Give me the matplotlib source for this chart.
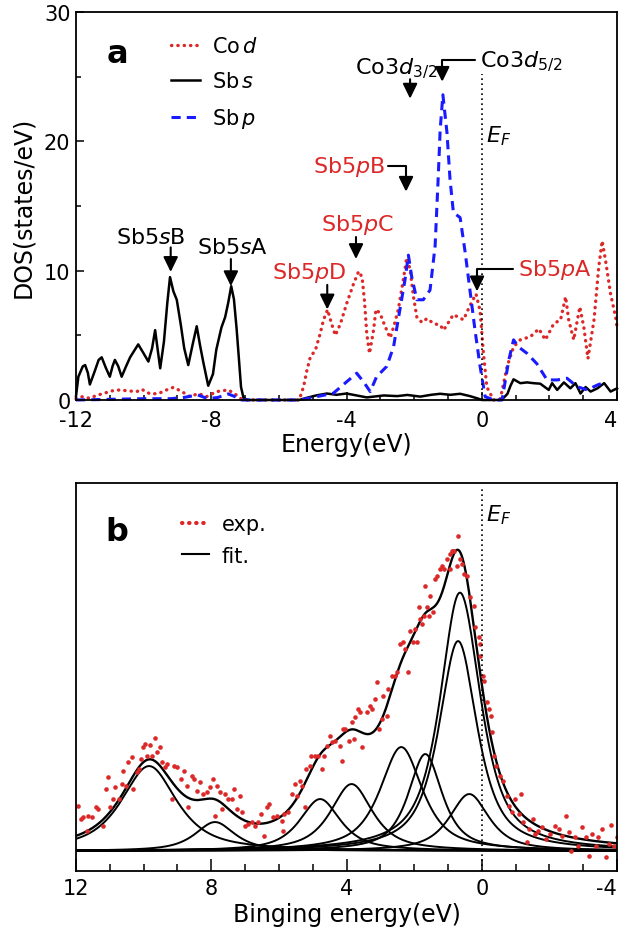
import numpy as np
import matplotlib
matplotlib.use("Agg")
import matplotlib.pyplot as plt
from matplotlib.lines import Line2D
from matplotlib.ticker import MultipleLocator

plt.rcParams["font.family"] = ["DejaVu Sans"]
plt.rcParams["font.size"] = 15
plt.rcParams["axes.unicode_minus"] = False
plt.rcParams["mathtext.fontset"] = "dejavusans"

RED = "#dc2828"
BLUE = "#1a1aff"

# ---- panel a: DOS curves (energy in eV, DOS in states/eV) ----
sbs_E = [-12.0, -11.93, -11.8, -11.73, -11.65, -11.59, -11.45, -11.33, -11.24, -11.12,
         -11.0, -10.92, -10.85, -10.75, -10.65, -10.52, -10.4, -10.16, -10.0, -9.86,
         -9.75, -9.66, -9.58, -9.51, -9.4, -9.3, -9.22, -9.12, -9.02, -8.9,
         -8.8, -8.68, -8.55, -8.43, -8.33, -8.23, -8.09, -7.95, -7.85, -7.7,
         -7.59, -7.5, -7.41, -7.33, -7.25, -7.18, -7.12, -7.05, -6.95, -5.4,
         -5.2, -4.9, -4.58, -4.3, -4.0, -3.7, -3.4, -3.2, -2.9, -2.5,
         -2.2, -1.82, -1.5, -1.23, -0.93, -0.64, -0.35, -0.1, 0.0, 0.53,
         0.66, 0.76, 0.85, 0.94, 1.14, 1.34, 1.53, 1.73, 1.98, 2.08,
         2.23, 2.43, 2.62, 2.77, 2.92, 3.07, 3.22, 3.42, 3.62, 3.81, 4.0]
sbs_D = [0.3, 1.8, 2.6, 2.7, 2.1, 1.2, 2.2, 3.1, 3.3, 2.5,
         1.8, 2.6, 3.1, 2.6, 1.8, 2.6, 3.3, 4.3, 3.6, 2.97,
         4.0, 5.4, 3.8, 2.45, 4.5, 7.5, 9.5, 8.4, 7.75, 5.8,
         4.0, 2.7, 4.3, 5.7, 4.2, 2.85, 1.1, 2.0, 3.9, 5.6,
         6.4, 7.5, 8.8, 7.8, 5.5, 3.1, 1.0, 0.2, 0.0, 0.0,
         0.15, 0.35, 0.5, 0.4, 0.5, 0.35, 0.2, 0.26, 0.35, 0.3,
         0.39, 0.26, 0.4, 0.48, 0.4, 0.48, 0.3, 0.1, 0.0, 0.0,
         0.2, 0.48, 1.1, 1.6, 1.3, 1.36, 1.3, 1.26, 0.78, 1.3,
         0.78, 1.36, 0.9, 1.3, 0.5, 1.0, 0.65, 0.9, 1.3, 0.65, 0.9]

cod_E = [-12.0, -11.85, -11.59, -11.4, -11.19, -10.95, -10.7, -10.45, -10.2, -10.06,
         -9.81, -9.56, -9.32, -9.12, -8.87, -8.63, -8.38, -8.14, -7.84, -7.5,
         -7.3, -7.1, -6.9, -5.4, -5.27, -5.17, -5.07, -4.92, -4.78, -4.68,
         -4.56, -4.43, -4.33, -4.18, -3.99, -3.79, -3.64, -3.54, -3.47, -3.4,
         -3.32, -3.2, -3.13, -3.01, -2.86, -2.71, -2.6, -2.47, -2.32, -2.22,
         -2.12, -2.02, -1.92, -1.77, -1.62, -1.42, -1.23, -1.13, -0.84, -0.54,
         -0.35, -0.17, -0.05, 0.05, 0.15, 0.35, 0.55, 0.75, 0.94, 1.14,
         1.44, 1.69, 1.88, 2.13, 2.33, 2.48, 2.57, 2.72, 2.9, 3.02,
         3.14, 3.32, 3.46, 3.56, 3.66, 3.81, 3.96, 4.0]
cod_D = [0.1, 0.26, 0.13, 0.35, 0.5, 0.7, 0.78, 0.7, 0.65, 0.83,
         0.47, 0.5, 0.78, 0.98, 0.65, 0.26, 0.5, 0.26, 0.65, 0.78,
         0.47, 0.05, 0.0, 0.0, 1.03, 2.3, 3.33, 3.85, 5.12, 6.2,
         6.98, 5.8, 5.0, 5.9, 7.5, 9.0, 9.95, 9.5, 7.7, 5.1,
         3.6, 5.4, 7.0, 6.7, 5.7, 4.8, 5.7, 6.98, 9.3, 11.0,
         10.1, 8.0, 6.4, 6.0, 6.3, 5.9, 5.8, 5.4, 6.6, 6.2,
         7.3, 8.2, 6.9, 3.6, 1.0, 0.0, 0.1, 2.6, 4.1, 4.65,
         4.9, 5.5, 4.65, 5.9, 6.2, 7.98, 6.2, 4.65, 7.2, 5.6,
         3.2, 6.2, 10.3, 12.3, 10.8, 8.2, 6.4, 5.6]

sbp_E = [-12.0, -11.0, -10.0, -9.2, -8.8, -8.4, -8.1, -7.8, -7.5, -7.3,
         -7.1, -5.37, -4.88, -4.39, -3.99, -3.7, -3.5, -3.3, -3.11, -2.81,
         -2.61, -2.42, -2.27, -2.17, -2.07, -1.92, -1.73, -1.53, -1.38, -1.29,
         -1.23, -1.15, -1.03, -0.94, -0.84, -0.64, -0.49, -0.35, -0.2, -0.05,
         0.1, 0.35, 0.6, 0.8, 0.94, 1.09, 1.34, 1.63, 1.93, 2.23,
         2.52, 2.82, 3.12, 3.42, 3.56]
sbp_D = [0.0, 0.05, 0.1, 0.1, 0.2, 0.39, 0.1, 0.2, 0.47, 0.26,
         0.0, 0.0, 0.26, 0.52, 1.42, 2.07, 1.42, 0.65, 1.8, 2.6,
         4.1, 7.0, 9.3, 11.2, 9.5, 7.75, 7.75, 8.5, 11.9, 17.1,
         20.9, 23.6, 20.7, 17.1, 14.5, 14.1, 11.4, 8.5, 5.4, 2.6,
         0.26, 0.0, 0.0, 3.1, 4.65, 4.1, 3.6, 2.8, 1.55, 1.55,
         1.68, 1.03, 0.78, 1.16, 1.29]

# ---- panel b: photoemission spectrum (binding energy in eV, arb. units) ----
exp_E = [11.93, 11.86, 11.78, 11.68, 11.64, 11.54, 11.41, 11.34, 11.21, 11.11,
         11.04, 10.99, 10.91, 10.85, 10.72, 10.65, 10.6, 10.52, 10.45, 10.35,
         10.3, 10.2, 10.13, 10.09, 10.01, 9.96, 9.89, 9.81, 9.74, 9.66,
         9.61, 9.53, 9.47, 9.37, 9.3, 9.17, 9.1, 9.0, 8.9, 8.81,
         8.73, 8.68, 8.58, 8.51, 8.43, 8.33, 8.23, 8.13, 8.04, 7.96,
         7.89, 7.82, 7.74, 7.67, 7.59, 7.5, 7.4, 7.33, 7.25, 7.15,
         7.08, 7.01, 6.91, 6.81, 6.72, 6.62, 6.53, 6.43, 6.36, 6.28,
         6.16, 6.06, 5.91, 5.89, 5.86, 5.72, 5.62, 5.52, 5.47, 5.37,
         5.33, 5.22, 5.2, 5.08, 5.05, 4.93, 4.83, 4.73, 4.68, 4.58,
         4.49, 4.44, 4.34, 4.19, 4.14, 4.09, 4.04, 3.94, 3.84, 3.79,
         3.75, 3.65, 3.6, 3.55, 3.4, 3.3, 3.25, 3.15, 3.1, 3.05,
         2.96, 2.91, 2.81, 2.76, 2.66, 2.56, 2.51, 2.41, 2.32, 2.27,
         2.17, 2.12, 2.02, 1.97, 1.92, 1.87, 1.82, 1.77, 1.72, 1.67,
         1.62, 1.57, 1.53, 1.43, 1.38, 1.33, 1.23, 1.18, 1.13, 1.03,
         0.94, 0.93, 0.88, 0.84, 0.83, 0.74, 0.69, 0.64, 0.59, 0.54,
         0.44, 0.34, 0.24, 0.19, 0.09, 0.06, 0.04, -0.04, -0.08, -0.14,
         -0.21, -0.26, -0.3, -0.37, -0.43, -0.53, -0.62, -0.74, -0.82, -0.89,
         -0.99, -1.09, -1.16, -1.23, -1.33, -1.41, -1.51, -1.58, -1.67, -1.78,
         -1.9, -2.02, -2.17, -2.27, -2.37, -2.5, -2.57, -2.64, -2.77, -2.84,
         -2.97, -3.07, -3.17, -3.27, -3.37, -3.44, -3.56, -3.66, -3.76, -3.83,
         -3.91, -4.0]
exp_I = [45, 32, 34, 20, 35, 34, 44, 42, 25, 62,
         74, 44, 52, 64, 52, 67, 80, 65, 89, 94,
         62, 79, 82, 92, 104, 107, 95, 106, 95, 113,
         99, 104, 89, 84, 87, 52, 85, 84, 72, 80,
         65, 44, 75, 72, 60, 69, 57, 59, 64, 72,
         35, 65, 59, 42, 57, 52, 52, 62, 42, 55,
         39, 25, 27, 29, 25, 29, 37, 15, 44, 47,
         34, 35, 30, 20, 37, 39, 57, 67, 55, 70,
         65, 44, 82, 85, 95, 95, 95, 82, 95, 105,
         115, 109, 110, 105, 90, 122, 122, 110, 129, 112,
         134, 142, 139, 104, 139, 145, 142, 152, 169, 122,
         132, 155, 135, 162, 175, 175, 179, 207, 209, 202,
         179, 220, 209, 222, 209, 244, 232, 227, 235, 265,
         244, 235, 255, 239, 272, 275, 282, 285, 282, 292,
         282, 297, 300, 300, 300, 285, 315, 292, 287, 277,
         275, 254, 245, 224, 214, 207, 195, 175, 170, 149,
         142, 135, 119, 95, 85, 75, 70, 55, 45, 39,
         52, 37, 57, 29, 9, 22, 32, 17, 20, 24,
         12, 17, 25, 22, 15, 35, 19, 0, 14, 5,
         24, 14, -5, 17, 5, 14, 22, -6, 7, 26,
         5, 14]

# fitted peaks: centre (eV), height, half width (eV)
fit_center = [9.84, 7.89, 4.78, 3.85, 2.38, 1.67, 0.70, 0.37]
fit_height = [85, 29, 52, 67, 104, 97, 210, 57]
fit_hwhm = [0.98, 0.7, 0.72, 0.74, 0.75, 0.6, 0.68, 0.70]


def pvoigt(x, c, h, g, eta=0.8):
    u = (x - c) / g
    return h * (eta / (1 + u ** 2) + (1 - eta) * np.exp(-np.log(2) * u ** 2))


fig = plt.figure(figsize=(6.22, 9.28), dpi=100)
ax1 = fig.add_axes([0.1222, 0.5679, 0.8698, 0.4181])
ax2 = fig.add_axes([0.1222, 0.0603, 0.8698, 0.418])

for ax in (ax1, ax2):
    for s in ax.spines.values():
        s.set_linewidth(1.3)

# ---------------- panel a ----------------
ax1.plot(cod_E, cod_D, color=RED, lw=2.4, dashes=(0.1, 1.8), dash_capstyle="round",
         clip_on=False, label="Co$\\,d$")
ax1.plot(sbs_E, sbs_D, color="k", lw=1.8, clip_on=False, label="Sb$\\,s$")
ax1.plot(sbp_E, sbp_D, color=BLUE, lw=2.2, dashes=(3, 2), clip_on=False, label="Sb$\\,p$")
ax1.plot([0, 0], [0, 25.2], color="k", lw=1.2, ls=(0, (1, 2)))

ax1.set_xlim(-12, 4)
ax1.set_ylim(0, 30)
ax1.set_xticks([-12, -8, -4, 0, 4])
ax1.set_yticks([0, 10, 20, 30])
ax1.xaxis.set_minor_locator(MultipleLocator(1))
ax1.yaxis.set_minor_locator(MultipleLocator(5))
ax1.tick_params(which="both", direction="in", top=False, right=False, width=1.1)
ax1.tick_params(which="major", length=6)
ax1.tick_params(which="minor", length=3.6)
ax1.tick_params(axis="x", pad=7)
ax1.tick_params(axis="y", pad=4)
ax1.get_xticklabels()[-1].set_ha("right")
ax1.set_xlabel("Energy(eV)", labelpad=2, fontsize=17)
ax1.set_ylabel("DOS(states/eV)", labelpad=6, fontsize=17)

ax1.text(0.076, 0.892, "a", transform=ax1.transAxes, fontsize=23, fontweight="bold",
         ha="center", va="center")
ax1.legend(loc="upper left", bbox_to_anchor=(0.175, 0.937), frameon=False, borderpad=0,
           borderaxespad=0, handlelength=1.4, handletextpad=0.6, labelspacing=0.72,
           fontsize=15)

arr = dict(arrowstyle="-|>,head_length=0.45,head_width=0.22", color="k", lw=1.5,
           shrinkA=0, shrinkB=0, mutation_scale=20)
bent = dict(arr, connectionstyle="angle,angleA=0,angleB=90,rad=0")

ax1.text(-9.78, 12.6, "Sb5$s$B", ha="center", va="center", fontsize=16)
ax1.annotate("", xy=(-9.2, 9.9), xytext=(-9.2, 11.8), arrowprops=arr)
ax1.text(-7.38, 11.8, "Sb5$s$A", ha="center", va="center", fontsize=16)
ax1.annotate("", xy=(-7.42, 8.8), xytext=(-7.42, 10.9), arrowprops=arr)
ax1.text(-5.11, 9.9, "Sb5$p$D", ha="center", va="center", color=RED, fontsize=16)
ax1.annotate("", xy=(-4.57, 7.0), xytext=(-4.57, 8.9), arrowprops=arr)
ax1.text(-3.67, 13.6, "Sb5$p$C", ha="center", va="center", color=RED, fontsize=16)
ax1.annotate("", xy=(-3.72, 10.9), xytext=(-3.72, 12.6), arrowprops=arr)
ax1.text(-3.92, 18.1, "Sb5$p$B", ha="center", va="center", color=RED, fontsize=16)
ax1.annotate("", xy=(-2.24, 16.1), xytext=(-2.77, 18.1), arrowprops=bent)
ax1.text(-2.53, 25.7, "Co3$d_{3/2}$", ha="center", va="center", fontsize=16)
ax1.annotate("", xy=(-2.12, 23.3), xytext=(-2.12, 24.8), arrowprops=arr)
ax1.text(-0.05, 26.2, "Co3$d_{5/2}$", ha="left", va="center", fontsize=16)
ax1.annotate("", xy=(-1.17, 24.6), xytext=(-0.19, 26.3), arrowprops=bent)
ax1.text(0.51, 20.5, "$E_F$", ha="center", va="center", fontsize=16)
ax1.text(2.17, 10.1, "Sb5$p$A", ha="center", va="center", color=RED, fontsize=16)
ax1.annotate("", xy=(-0.14, 8.4), xytext=(0.93, 10.1), arrowprops=bent)

# ---------------- panel b ----------------
xx = np.linspace(-4, 12, 1601)
comps = [pvoigt(xx, c, h, g) for c, h, g in zip(fit_center, fit_height, fit_hwhm)]
for y in comps:
    ax2.plot(xx, y, color="k", lw=1.4)
ax2.plot(xx, comps[6] + comps[7], color="k", lw=1.4)
ax2.plot(xx, np.sum(comps, axis=0), color="k", lw=1.7)
ax2.plot(exp_E, exp_I, ls="none", marker="o", ms=3.3, mew=0, color=RED)
ax2.plot([0, 0], [-20, 364], color="k", lw=1.2, ls=(0, (1, 2)))
ax2.text(-0.49, 337, "$E_F$", ha="center", va="center", fontsize=16)

ax2.set_xlim(12, -4)
ax2.set_ylim(-20, 368)
ax2.set_xticks([12, 8, 4, 0, -4])
ax2.set_yticks([])
ax2.xaxis.set_minor_locator(MultipleLocator(1))
ax2.tick_params(which="both", direction="in", top=False, right=False, width=1.1)
ax2.tick_params(which="major", length=8.6, pad=5)
ax2.tick_params(which="minor", length=5)
ax2.get_xticklabels()[-1].set_ha("right")
ax2.set_xlabel("Binging energy(eV)", labelpad=3, fontsize=17)

ax2.text(0.076, 0.876, "b", transform=ax2.transAxes, fontsize=23, fontweight="bold",
         ha="center", va="center")
hands = [Line2D([], [], color=RED, lw=3, dashes=(0.1, 1.6), dash_capstyle="round"),
         Line2D([], [], color="k", lw=1.5)]
ax2.legend(hands, ["exp.", "fit."], loc="upper left", bbox_to_anchor=(0.196, 0.92),
           frameon=False, borderpad=0, borderaxespad=0, handlelength=1.3,
           handletextpad=0.6, labelspacing=0.55, fontsize=15)

fig.savefig("out.png", dpi=100)
